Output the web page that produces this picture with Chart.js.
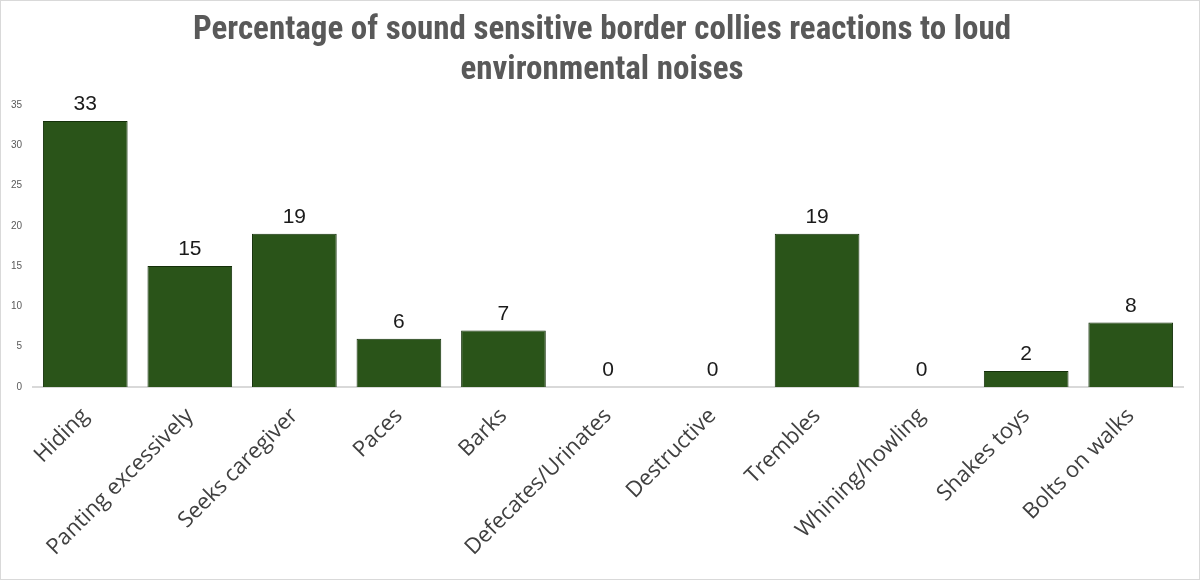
<!DOCTYPE html>
<html>
<head>
<meta charset="utf-8">
<script src="https://cdn.jsdelivr.net/npm/chart.js@4.4.1/dist/chart.umd.min.js"></script>
<style>
  html, body { margin: 0; padding: 0; background: #fff; }
  #wrap { position: relative; width: 1200px; height: 580px; box-sizing: border-box; border: 1px solid #d9d9d9; }
</style>
</head>
<body>
<div id="wrap"><canvas id="myChart" width="1198" height="578"></canvas></div>
<script>
const categories = ["Hiding", "Panting excessively", "Seeks caregiver", "Paces", "Barks",
  "Defecates/Urinates", "Destructive", "Trembles", "Whining/howling", "Shakes toys", "Bolts on walks"];
const percentages = [33, 15, 19, 6, 7, 0, 0, 19, 0, 2, 8];
const yTicks = [0, 5, 10, 15, 20, 25, 30, 35];

const ctx = document.getElementById("myChart").getContext("2d");

// draw value above each bar
const valueLabels = {
  id: "valueLabels",
  afterDatasetsDraw(chart) {
    const c = chart.ctx;
    const meta = chart.getDatasetMeta(0);
    c.save();
    c.font = "21px 'Liberation Sans', Arial, sans-serif";
    c.fillStyle = "#1a1a1a";
    c.textAlign = "center";
    c.textBaseline = "bottom";
    meta.data.forEach((bar, i) => {
      c.fillText(String(percentages[i]), bar.x, bar.y - 6);
    });
    c.restore();
  },
};

// center the title on the whole canvas, not the padded box
const centerTitle = {
  id: "centerTitle",
  afterLayout(chart) {
    if (chart.titleBlock) {
      chart.titleBlock.left = 4;
      chart.titleBlock.right = chart.width;
    }
  },
};

new Chart(ctx, {
  type: "bar",
  data: {
    labels: categories,
    datasets: [
      {
        label: "Percentage",
        data: percentages,
        backgroundColor: "#2a5419",
        borderColor: "#14300a",
        borderWidth: 1,
        barPercentage: 0.81,
        categoryPercentage: 1,
      },
    ],
  },
  options: {
    responsive: false,
    animation: false,
    layout: { padding: { left: 4, right: 16, top: 0, bottom: 0 } },
    plugins: {
      legend: { display: false },
      tooltip: { enabled: false },
      title: {
        display: true,
        text: ["Percentage of sound sensitive border collies reactions to loud", "environmental noises"],
        color: "#595959",
        font: { family: "'Roboto Condensed', 'Liberation Sans Narrow', sans-serif", size: 33, weight: "bold", lineHeight: 1.21 },
        padding: { top: 10, bottom: 14 },
      },
    },
    scales: {
      x: {
        grid: { display: false, drawTicks: false },
        border: { display: true, color: "#d9d9d9", width: 2 },
        ticks: {
          color: "#404040",
          font: { family: "'Open Sans', sans-serif", size: 22 },
          maxRotation: 45,
          minRotation: 45,
          autoSkip: false,
          padding: 16,
        },
        afterFit: (s) => { s.height = 192; },
      },
      y: {
        min: 0,
        max: 35,
        afterBuildTicks: (s) => { s.ticks = yTicks.map((v) => ({ value: v })); },
        grid: { display: false, drawTicks: false },
        border: { display: false },
        ticks: {
          color: "#595959",
          font: { family: "'Liberation Sans', Arial, sans-serif", size: 10 },
          padding: 11,
        },
        afterFit: (s) => { s.width = 28; },
      },
    },
  },
  plugins: [valueLabels, centerTitle],
});
</script>
</body>
</html>
